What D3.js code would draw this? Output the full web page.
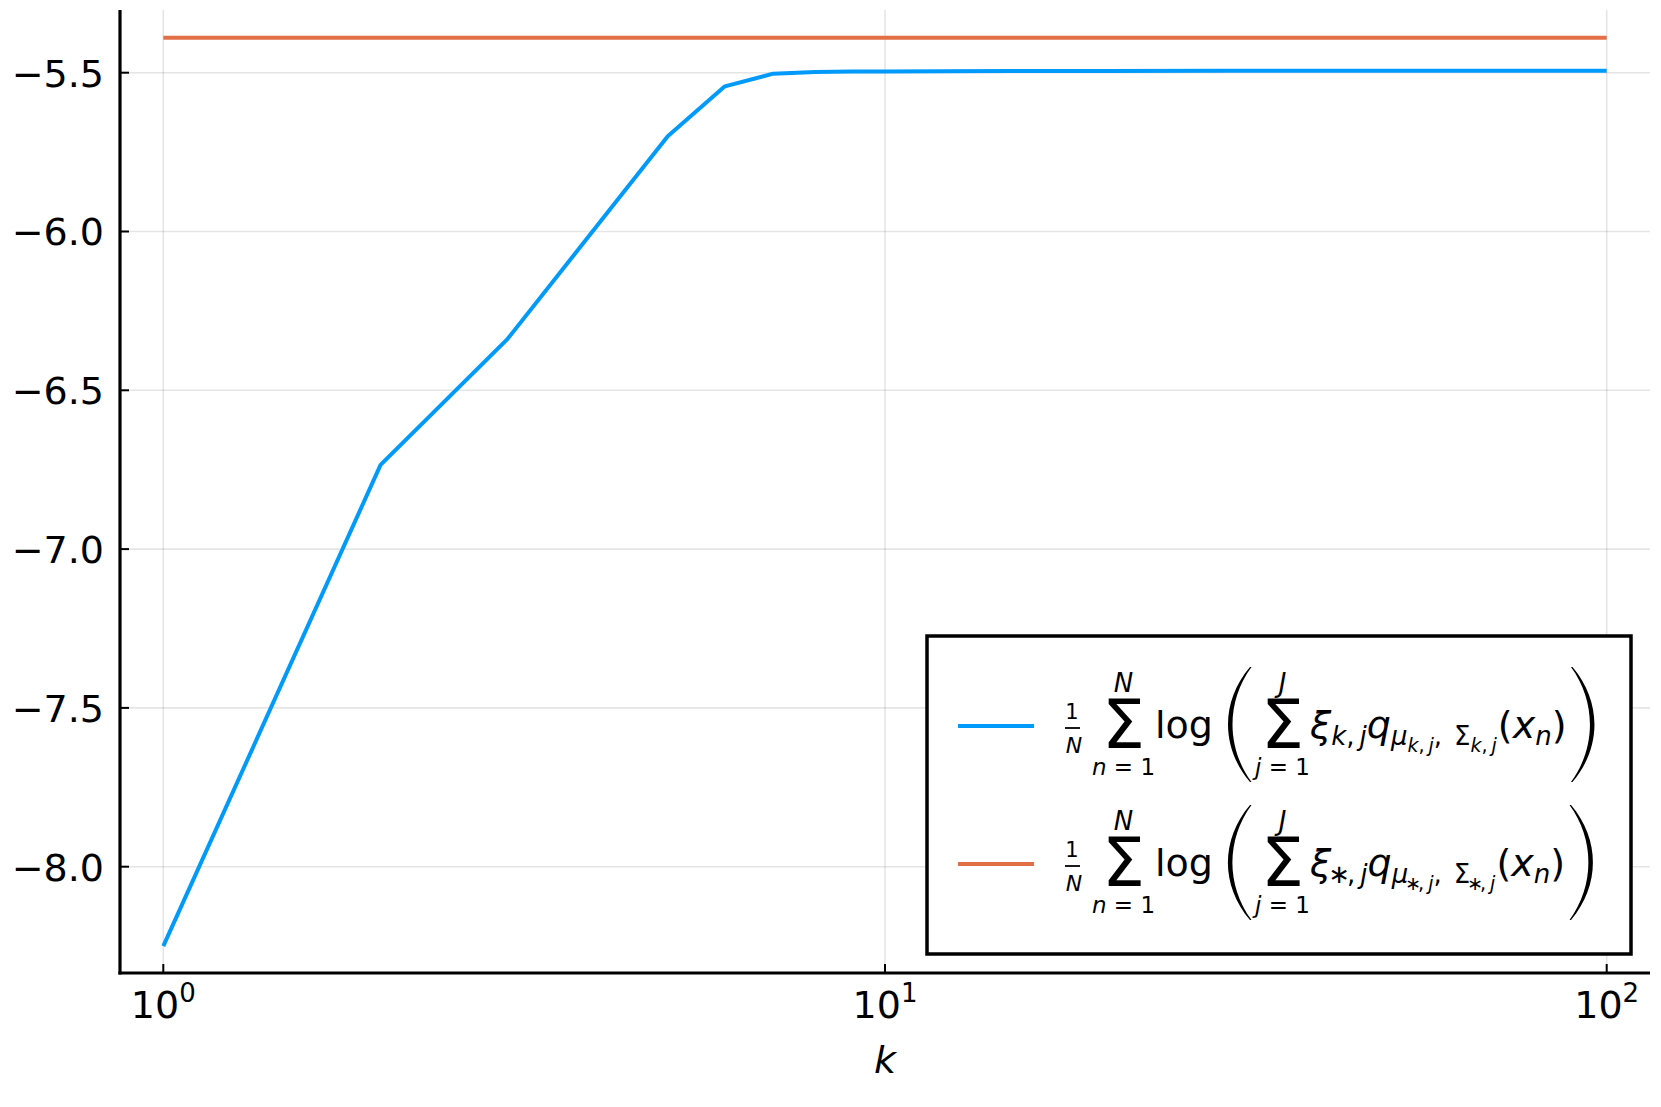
<!DOCTYPE html>
<html>
<head>
<meta charset="utf-8">
<script src="https://cdn.jsdelivr.net/npm/d3@7"></script>
<style>
  html, body { margin: 0; padding: 0; background: white; }
  svg { display: block; font-family: 'DejaVu Sans', sans-serif; }
  .grid line { stroke: #000; stroke-opacity: 0.1; stroke-width: 1.6; }
  .it { font-style: italic; }
</style>
</head>
<body>
<svg id="chart" width="1661" height="1107"></svg>
<script>
// values
const kValues = [1, 2, 3, 4, 5, 6, 7, 8, 9, 10, 12, 15, 20, 30, 50, 70, 100];
const fitValues = [-8.250, -6.735, -6.338, -5.979, -5.700, -5.543, -5.503, -5.498,
  -5.4965, -5.496, -5.4955, -5.495, -5.4945, -5.494, -5.494, -5.494, -5.4937];
const trueK = [1, 100];
const trueValues = [-5.39, -5.39];
const yTicks = [-8.0, -7.5, -7.0, -6.5, -6.0, -5.5];
const xTicks = [1, 10, 100];
const xTickExp = ['0', '1', '2'];
const seriesColors = ['#009AFA', '#E26F46'];
const seriesIndex = ['k', '\u2217'];

let W = 1661, H = 1107;
let margin = {top: 10, right: 11, bottom: 134, left: 120};

let svg = d3.select('#chart');

let sx = d3.scaleLog()
  .domain([Math.pow(10, -0.06), Math.pow(10, 2.06)])
  .range([margin.left, W - margin.right]);
let sy = d3.scaleLinear()
  .domain([-8.3347, -5.3026])
  .range([H - margin.bottom, margin.top]);

let x0 = sx.range()[0], x1 = sx.range()[1];
let y0 = sy.range()[1], y1 = sy.range()[0];

// grid
let grid = svg.append('g').attr('class', 'grid');
grid.selectAll('.gx').data(xTicks).enter()
  .append('line')
    .attr('x1', d => sx(d)).attr('x2', d => sx(d))
    .attr('y1', y0).attr('y2', y1);
grid.selectAll('.gy').data(yTicks).enter()
  .append('line')
    .attr('x1', x0).attr('x2', x1)
    .attr('y1', d => sy(d)).attr('y2', d => sy(d));

// series
let line = d3.line()
  .x(d => sx(d[0]))
  .y(d => sy(d[1]));

svg.append('path')
  .datum(kValues.map((k, i) => [k, fitValues[i]]))
  .attr('d', line)
  .attr('fill', 'none')
  .attr('stroke', seriesColors[0])
  .attr('stroke-width', 4)
  .attr('stroke-linejoin', 'round');

svg.append('path')
  .datum(trueK.map((k, i) => [k, trueValues[i]]))
  .attr('d', line)
  .attr('fill', 'none')
  .attr('stroke', seriesColors[1])
  .attr('stroke-width', 4);

// axes
let ax = svg.append('g');
ax.selectAll('.ty').data(yTicks).enter()
  .append('line')
    .attr('x1', x0).attr('x2', x0 + 9)
    .attr('y1', d => sy(d)).attr('y2', d => sy(d))
    .attr('stroke', '#000').attr('stroke-width', 2);
ax.selectAll('.tx').data(xTicks).enter()
  .append('line')
    .attr('x1', d => sx(d)).attr('x2', d => sx(d))
    .attr('y1', y1).attr('y2', y1 - 9)
    .attr('stroke', '#000').attr('stroke-width', 2);

ax.append('line')
  .attr('x1', x0).attr('x2', x0).attr('y1', y0).attr('y2', y1 + 1.6)
  .attr('stroke', '#000').attr('stroke-width', 3.2);
ax.append('line')
  .attr('x1', x0 - 1.6).attr('x2', x1).attr('y1', y1).attr('y2', y1)
  .attr('stroke', '#000').attr('stroke-width', 3.2);

ax.selectAll('.ly').data(yTicks).enter()
  .append('text')
    .attr('x', x0 - 16)
    .attr('y', d => sy(d) + 14)
    .attr('text-anchor', 'end')
    .attr('font-size', 38)
    .text(d => d3.format('.1f')(d).replace('-', '\u2212'));

let xl = ax.selectAll('.lx').data(xTicks).enter()
  .append('text')
    .attr('x', d => sx(d))
    .attr('y', y1 + 45)
    .attr('text-anchor', 'middle')
    .attr('font-size', 38);
xl.append('tspan').text('10');
xl.append('tspan')
  .attr('font-size', 26)
  .attr('dy', -16)
  .text((d, i) => xTickExp[i]);

ax.append('text')
  .attr('class', 'it')
  .attr('x', (x0 + x1) / 2)
  .attr('y', y1 + 100)
  .attr('text-anchor', 'middle')
  .attr('font-size', 38)
  .text('k');

// legend
let lg = {x: 927, y: 636, w: 704, h: 318};
let legend = svg.append('g').attr('transform', `translate(${lg.x},${lg.y})`);
legend.append('rect')
  .attr('width', lg.w).attr('height', lg.h)
  .attr('fill', 'white')
  .attr('stroke', '#000').attr('stroke-width', 3.5);

function parenPath(xb, xt, top, bot, w) {
  let d = xt > xb ? 1 : -1;
  let h = bot - top;
  let ot = xt - d * 1, it = xt + d * 0.5, ib = xb + d * w;
  let co = (xb - 0.25 * ot) / 0.75, ci = (ib - 0.25 * it) / 0.75;
  return `M${ot},${top} C${co},${top + 0.3 * h} ${co},${bot - 0.3 * h} ${ot},${bot}` +
    ` L${it},${bot} C${ci},${bot - 0.3 * h} ${ci},${top + 0.3 * h} ${it},${top} Z`;
}

function bigSum(g, cx, top, bot) {
  g.append('text')
    .attr('x', cx).attr('y', 22)
    .attr('text-anchor', 'middle')
    .attr('font-size', 68)
    .text('\u03A3');
  g.append('text')
    .attr('class', 'it')
    .attr('x', cx).attr('y', -34)
    .attr('text-anchor', 'middle')
    .attr('font-size', 26)
    .text(top);
  let b = g.append('text')
    .attr('x', cx).attr('y', 49)
    .attr('text-anchor', 'middle')
    .attr('font-size', 23);
  b.append('tspan').attr('class', 'it').text(bot);
  b.append('tspan').text(' = 1');
}

let rowY = [90, 228];

seriesIndex.forEach((s, r) => {
  let g = legend.append('g').attr('transform', `translate(0,${rowY[r]})`);

  g.append('line')
    .attr('x1', 31).attr('x2', 107)
    .attr('stroke', seriesColors[r]).attr('stroke-width', 4.2);

  // 1/N
  g.append('text').attr('x', 145).attr('y', -7)
    .attr('text-anchor', 'middle').attr('font-size', 21).text('1');
  g.append('line').attr('x1', 138).attr('x2', 153).attr('y1', 2).attr('y2', 2)
    .attr('stroke', '#000').attr('stroke-width', 1.8);
  g.append('text').attr('class', 'it').attr('x', 147).attr('y', 27)
    .attr('text-anchor', 'middle').attr('font-size', 22).text('N');

  bigSum(g, 196.5, 'N', 'n');

  g.append('text').attr('x', 228).attr('y', 12).attr('font-size', 38).text('log');

  g.append('path').attr('d', parenPath(301, 324, -59, 56, 4.5)).attr('fill', '#000');

  bigSum(g, 355.5, 'J', 'j');

  let t = g.append('text').attr('x', 383).attr('y', 12).attr('font-size', 38);
  let si = s === 'k';
  let pad = si ? 0 : -3;
  function add(txt, size, italic, dy, dx) {
    let ts = t.append('tspan').attr('font-size', size).text(txt);
    if (italic) ts.attr('class', 'it');
    if (dy) ts.attr('dy', dy);
    if (dx) ts.attr('dx', dx);
  }
  add('\u03BE', 38, true);
  add(s, 26, si, 7, pad); add(',', 26, false, 0, pad); add('j', 26, true, 0, 5);
  add('q', 38, true, -7);
  add('\u03BC', 26, true, 7);
  add(s, 19, si, 7, pad); add(',', 19, false, 0, pad); add('j', 19, true, 0, 4);
  add(',', 26, false, -7);
  add('\u03A3', 26, false, 0, 12);
  add(s, 19, si, 7, pad); add(',', 19, false, 0, pad); add('j', 19, true, 0, 4);
  add('(', 38, false, -14, 1);
  add('x', 38, true);
  add('n', 26, true, 7);
  add(')', 38, false, -7);

  let bb = t.node().getBBox();
  let px = bb.x + bb.width + 5;
  g.append('path').attr('d', parenPath(px + 23, px, -59, 56, 4.5)).attr('fill', '#000');
});
</script>
</body>
</html>
